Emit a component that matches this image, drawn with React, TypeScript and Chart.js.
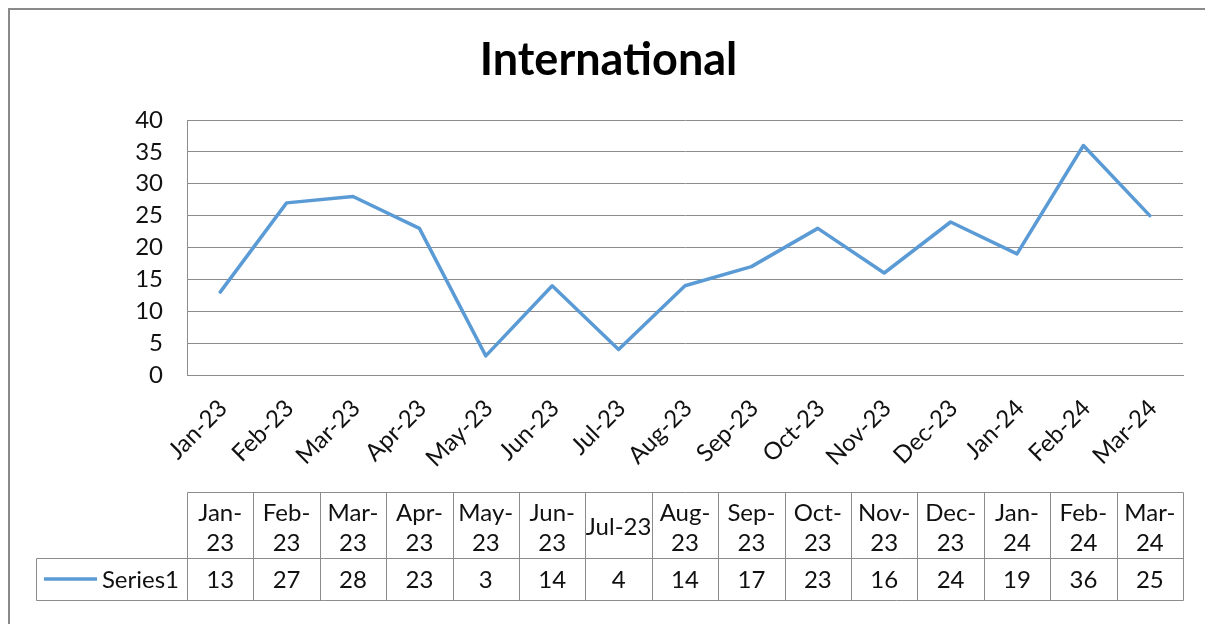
import React, { useEffect, useRef } from "react";
import { Chart, registerables } from "chart.js";

Chart.register(...registerables);

const chartTitle = "International";
const seriesName = "Series1";
const months = [
  "Jan-23", "Feb-23", "Mar-23", "Apr-23", "May-23", "Jun-23", "Jul-23", "Aug-23",
  "Sep-23", "Oct-23", "Nov-23", "Dec-23", "Jan-24", "Feb-24", "Mar-24",
];
const series1 = [13, 27, 28, 23, 3, 14, 4, 14, 17, 23, 16, 24, 19, 36, 25];
const yMin = 0;
const yMax = 40;
const yStep = 5;

const FONT = "Lato, Calibri, Carlito, sans-serif";
const LINE_COLOR = "#5B9BD5";
const GRID_COLOR = "#8c8c8c";
const TEXT_COLOR = "#111111";

const W = 1197;
const H = 616;

const framePlugin = {
  id: "frame",
  beforeDraw(chart: any) {
    const ctx = chart.ctx;
    ctx.save();
    ctx.fillStyle = "#ffffff";
    ctx.fillRect(0, 0, chart.width, chart.height);
    ctx.fillStyle = "#8a8a8a";
    ctx.fillRect(0, 0, chart.width, 2);
    ctx.fillRect(0, 0, 2, chart.height);
    // chart title
    ctx.fillStyle = "#000000";
    ctx.font = `bold 45px ${FONT}`;
    ctx.textAlign = "center";
    ctx.textBaseline = "middle";
    ctx.fillText(chartTitle, 600.5, 52);
    ctx.restore();
  },
};

const dataTablePlugin = {
  id: "dataTable",
  afterDraw(chart: any) {
    const ctx = chart.ctx;
    const xs = chart.scales.x;
    const area = chart.chartArea;
    const labels: string[] = chart.data.labels;
    const values: number[] = chart.data.datasets[0].data;
    const n = labels.length;
    const colW = (xs.right - xs.left) / n;
    const top = Math.round(area.bottom) + 117;
    const mid = top + 66;
    const bottom = mid + 42;
    const legendLeft = 28;
    const px = (v: number) => Math.round(v) + 0.5;

    ctx.save();
    ctx.strokeStyle = GRID_COLOR;
    ctx.lineWidth = 1;
    ctx.beginPath();
    ctx.moveTo(px(xs.left), px(top));
    ctx.lineTo(px(xs.right), px(top));
    ctx.moveTo(px(legendLeft), px(mid));
    ctx.lineTo(px(xs.right), px(mid));
    ctx.moveTo(px(legendLeft), px(bottom));
    ctx.lineTo(px(xs.right), px(bottom));
    for (let i = 0; i <= n; i++) {
      const xv = px(xs.left + i * colW);
      ctx.moveTo(xv, px(top));
      ctx.lineTo(xv, px(bottom));
    }
    ctx.moveTo(px(legendLeft), px(mid));
    ctx.lineTo(px(legendLeft), px(bottom));
    ctx.stroke();

    ctx.font = `24px ${FONT}`;
    ctx.fillStyle = TEXT_COLOR;
    ctx.textAlign = "center";
    ctx.textBaseline = "middle";
    for (let i = 0; i < n; i++) {
      const cx = xs.getPixelForValue(i);
      const lab = labels[i];
      if (ctx.measureText(lab).width > colW + 3) {
        const k = lab.indexOf("-");
        ctx.fillText(lab.slice(0, k + 1), cx, top + 21);
        ctx.fillText(lab.slice(k + 1), cx, top + 51);
      } else {
        ctx.fillText(lab, cx, top + 35);
      }
      ctx.fillText(String(values[i]), cx, mid + 22);
    }
    // legend key
    ctx.strokeStyle = LINE_COLOR;
    ctx.lineWidth = 3.5;
    ctx.beginPath();
    ctx.moveTo(36, mid + 21);
    ctx.lineTo(89, mid + 21);
    ctx.stroke();
    ctx.textAlign = "right";
    ctx.fillText(seriesName, 171, mid + 22);
    ctx.restore();
  },
};

export default function App() {
  const ref = useRef<HTMLCanvasElement | null>(null);
  useEffect(() => {
    if (!ref.current) return;
    const chart = new Chart(ref.current, {
      type: "line",
      data: {
        labels: months,
        datasets: [
          {
            label: seriesName,
            data: series1,
            borderColor: LINE_COLOR,
            backgroundColor: LINE_COLOR,
            borderWidth: 3.5,
            borderJoinStyle: "round",
            borderCapStyle: "round",
            pointRadius: 0,
            tension: 0,
            fill: false,
          },
        ],
      },
      options: {
        responsive: false,
        animation: false,
        devicePixelRatio: 1,
        layout: { padding: { top: 112, left: 0, right: 22, bottom: 0 } },
        plugins: {
          legend: { display: false },
          tooltip: { enabled: false },
          title: { display: false },
        },
        scales: {
          x: {
            offset: true,
            grid: { display: false, drawTicks: false },
            border: { display: true, color: GRID_COLOR, width: 1 },
            ticks: {
              autoSkip: false,
              minRotation: 45,
              maxRotation: 45,
              padding: 19,
              labelOffset: 3,
              color: TEXT_COLOR,
              font: { family: FONT, size: 24 },
            },
            afterFit(s: any) {
              s.height = H - 367;
            },
          },
          y: {
            min: yMin,
            max: yMax,
            grid: { color: GRID_COLOR, drawTicks: false, lineWidth: 1 },
            border: { display: true, color: GRID_COLOR, width: 1 },
            ticks: {
              stepSize: yStep,
              padding: 24,
              color: TEXT_COLOR,
              font: { family: FONT, size: 24 },
            },
            afterFit(s: any) {
              s.width = 179;
            },
          },
        },
      },
      plugins: [framePlugin, dataTablePlugin],
    });
    return () => chart.destroy();
  }, []);
  return (
    <div style={{ position: "fixed", left: 8, top: 8, width: W, height: H, overflow: "hidden" }}>
      <canvas ref={ref} width={W} height={H} style={{ width: W, height: H, display: "block" }} />
    </div>
  );
}
